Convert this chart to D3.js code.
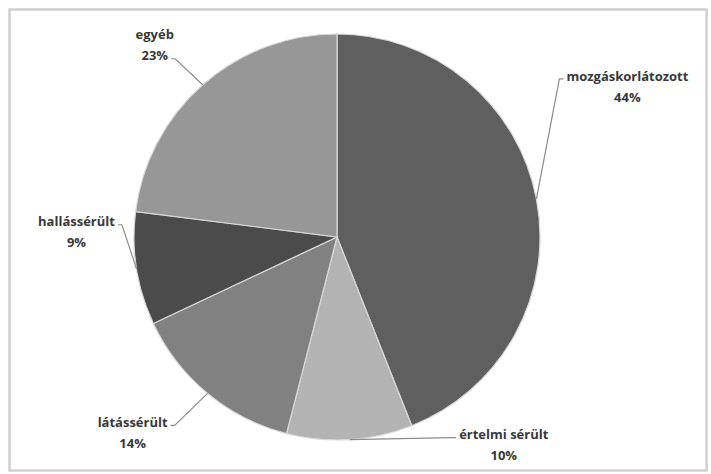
<!DOCTYPE html>
<html>
<head>
<meta charset="utf-8">
<script src="https://cdn.jsdelivr.net/npm/d3@7"></script>
<style>
  body { margin: 0; background: #fff; }
  .lbl { font-family: 'Open Sans', sans-serif; font-weight: 700; font-size: 13px; fill: #383838; }
</style>
</head>
<body>
<div id="chart"></div>
<script>
'use strict';

const width = 711;
const height = 474;

// data, clockwise from 12 o'clock
const categories = ['mozgáskorlátozott', 'értelmi sérült', 'látássérült', 'hallássérült', 'egyéb'];
const shares = [44, 10, 14, 9, 23];
const shareLabels = ['44%', '10%', '14%', '9%', '23%'];

const sliceColors = ['#5f5f5f', '#b3b3b3', '#818181', '#4b4b4b', '#979797'];
// label centre relative to the slice's outer mid point
const labelOffsets = [[91, -123], [154, -5], [-75, 29], [-60, -47], [-48, -50]];
const leaderLine = [0, 0, 0, 0, 1]; // which text line the leader attaches to

const cx = 337, cy = 237, radius = 203;
const lineGap = 21;

let svg = d3.select('#chart').append('svg')
    .attr('width', width)
    .attr('height', height);

svg.append('rect')
    .attr('x', 9.5).attr('y', 9.5)
    .attr('width', 697).attr('height', 461)
    .attr('fill', '#fff')
    .attr('stroke', '#d0d0d0')
    .attr('stroke-width', 2.5);

const pie = d3.pie().sort(null).value(d => d.value);
const arcs = pie(categories.map((c, i) => ({ name: c, value: shares[i], i: i })));

const arc = d3.arc().innerRadius(0).outerRadius(radius);

let g = svg.append('g').attr('transform', `translate(${cx},${cy})`);

g.selectAll('path.slice').data(arcs)
    .enter().append('path')
    .attr('class', 'slice')
    .attr('d', arc)
    .attr('fill', d => sliceColors[d.data.i])
    .attr('stroke', '#d8d8d8')
    .attr('stroke-width', 1.2);

// labels + leader lines
arcs.forEach(d => {
    const i = d.data.i;
    const mid = (d.startAngle + d.endAngle) / 2;
    const ex = radius * Math.sin(mid);
    const ey = -radius * Math.cos(mid);
    const lx = ex + labelOffsets[i][0];
    const ly = ey + labelOffsets[i][1];

    const t = g.append('text')
        .attr('class', 'lbl')
        .attr('text-anchor', 'middle');
    t.append('tspan').attr('x', lx).attr('y', ly).attr('dy', '0.35em').text(categories[i]);
    t.append('tspan').attr('x', lx).attr('y', ly + lineGap).attr('dy', '0.35em').text(shareLabels[i]);

    const tw = t.selectAll('tspan').nodes()[leaderLine[i]].getComputedTextLength();
    const side = lx > ex ? -1 : 1; // text left or right of the edge point
    const endX = lx + side * (tw / 2 + 3);
    const endY = ly + leaderLine[i] * lineGap + 3;
    const elbowX = endX + side * 4;

    g.insert('polyline', 'text')
        .attr('points', [[ex, ey], [elbowX, endY], [endX, endY]].map(p => p.join(',')).join(' '))
        .attr('fill', 'none')
        .attr('stroke', '#8c8c8c')
        .attr('stroke-width', 1.2);
});
</script>
</body>
</html>
